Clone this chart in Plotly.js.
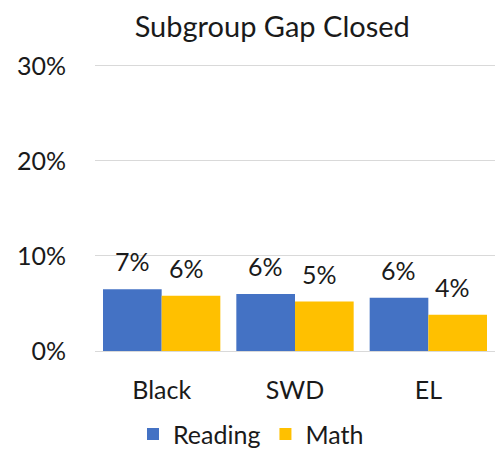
<!DOCTYPE html>
<html>
<head>
<meta charset="utf-8">
<script src="https://cdn.plot.ly/plotly-3.0.1.min.js"></script>
<style>html,body{margin:0;padding:0;background:#fff;}#chart{width:495px;height:450px;}</style>
</head>
<body>
<div id="chart"></div>
<script>
var categories = ["Black", "SWD", "EL"];
var readingValues = [6.5, 6.0, 5.6];
var mathValues = [5.8, 5.2, 3.8];
var readingLabels = ["7%", "6%", "6%"];
var mathLabels = ["6%", "5%", "4%"];
var yTickValues = [0, 10, 20, 30];
var yTickLabels = ["0%", "10%", "20%", "30%"];

var FONT = "Lato, 'Open Sans', sans-serif";
var TXT = "#1a1a1a";

var traces = [
  {type: "bar", name: "Reading", x: categories, y: readingValues, marker: {color: "#4472C4"}, hoverinfo: "none"},
  {type: "bar", name: "Math", x: categories, y: mathValues, marker: {color: "#FFC000"}, hoverinfo: "none"}
];

var bargap = 0.12;
var plotW = 495 - 95 - 0;
var catW = plotW / categories.length;
var barW = catW * (1 - bargap) / 2;

var annotations = [];
categories.forEach(function (c, i) {
  annotations.push({x: c, y: readingValues[i], xref: "x", yref: "y", text: readingLabels[i], showarrow: false,
    xshift: -barW / 2, yshift: 28, yanchor: "middle", font: {size: 25, color: TXT, family: FONT}});
  annotations.push({x: c, y: mathValues[i], xref: "x", yref: "y", text: mathLabels[i], showarrow: false,
    xshift: barW / 2 - 5, yshift: 28, yanchor: "middle", font: {size: 25, color: TXT, family: FONT}});
});

var layout = {
  width: 495, height: 450,
  margin: {l: 95, r: 0, t: 61, b: 99, autoexpand: false},
  paper_bgcolor: "#fff", plot_bgcolor: "#fff",
  font: {family: FONT, color: TXT},
  title: {text: "Subgroup Gap Closed", font: {size: 29, color: TXT, family: FONT}, x: 0.55, xanchor: "center", y: 0.94, yanchor: "middle"},
  barmode: "group", bargap: bargap, bargroupgap: 0,
  xaxis: {tickfont: {size: 25, color: TXT, family: FONT}, showline: true, linecolor: "#d9d9d9", ticks: "", ticklabelstandoff: 17, fixedrange: true},
  yaxis: {range: [0, 30.5], tickvals: yTickValues, ticktext: yTickLabels, tickfont: {size: 25, color: TXT, family: FONT},
    showgrid: true, gridcolor: "#d9d9d9", gridwidth: 1, zeroline: false, ticks: "", ticklabelstandoff: 28, fixedrange: true},
  showlegend: true,
  legend: {orientation: "h", xref: "paper", yref: "paper", x: 0.39, xanchor: "center", y: -0.208, yanchor: "top",
    font: {size: 25, color: TXT, family: FONT}, itemwidth: 30, traceorder: "normal", bgcolor: "rgba(0,0,0,0)"},
  annotations: annotations
};

Plotly.newPlot("chart", traces, layout, {displayModeBar: false, staticPlot: true});
</script>
</body>
</html>
